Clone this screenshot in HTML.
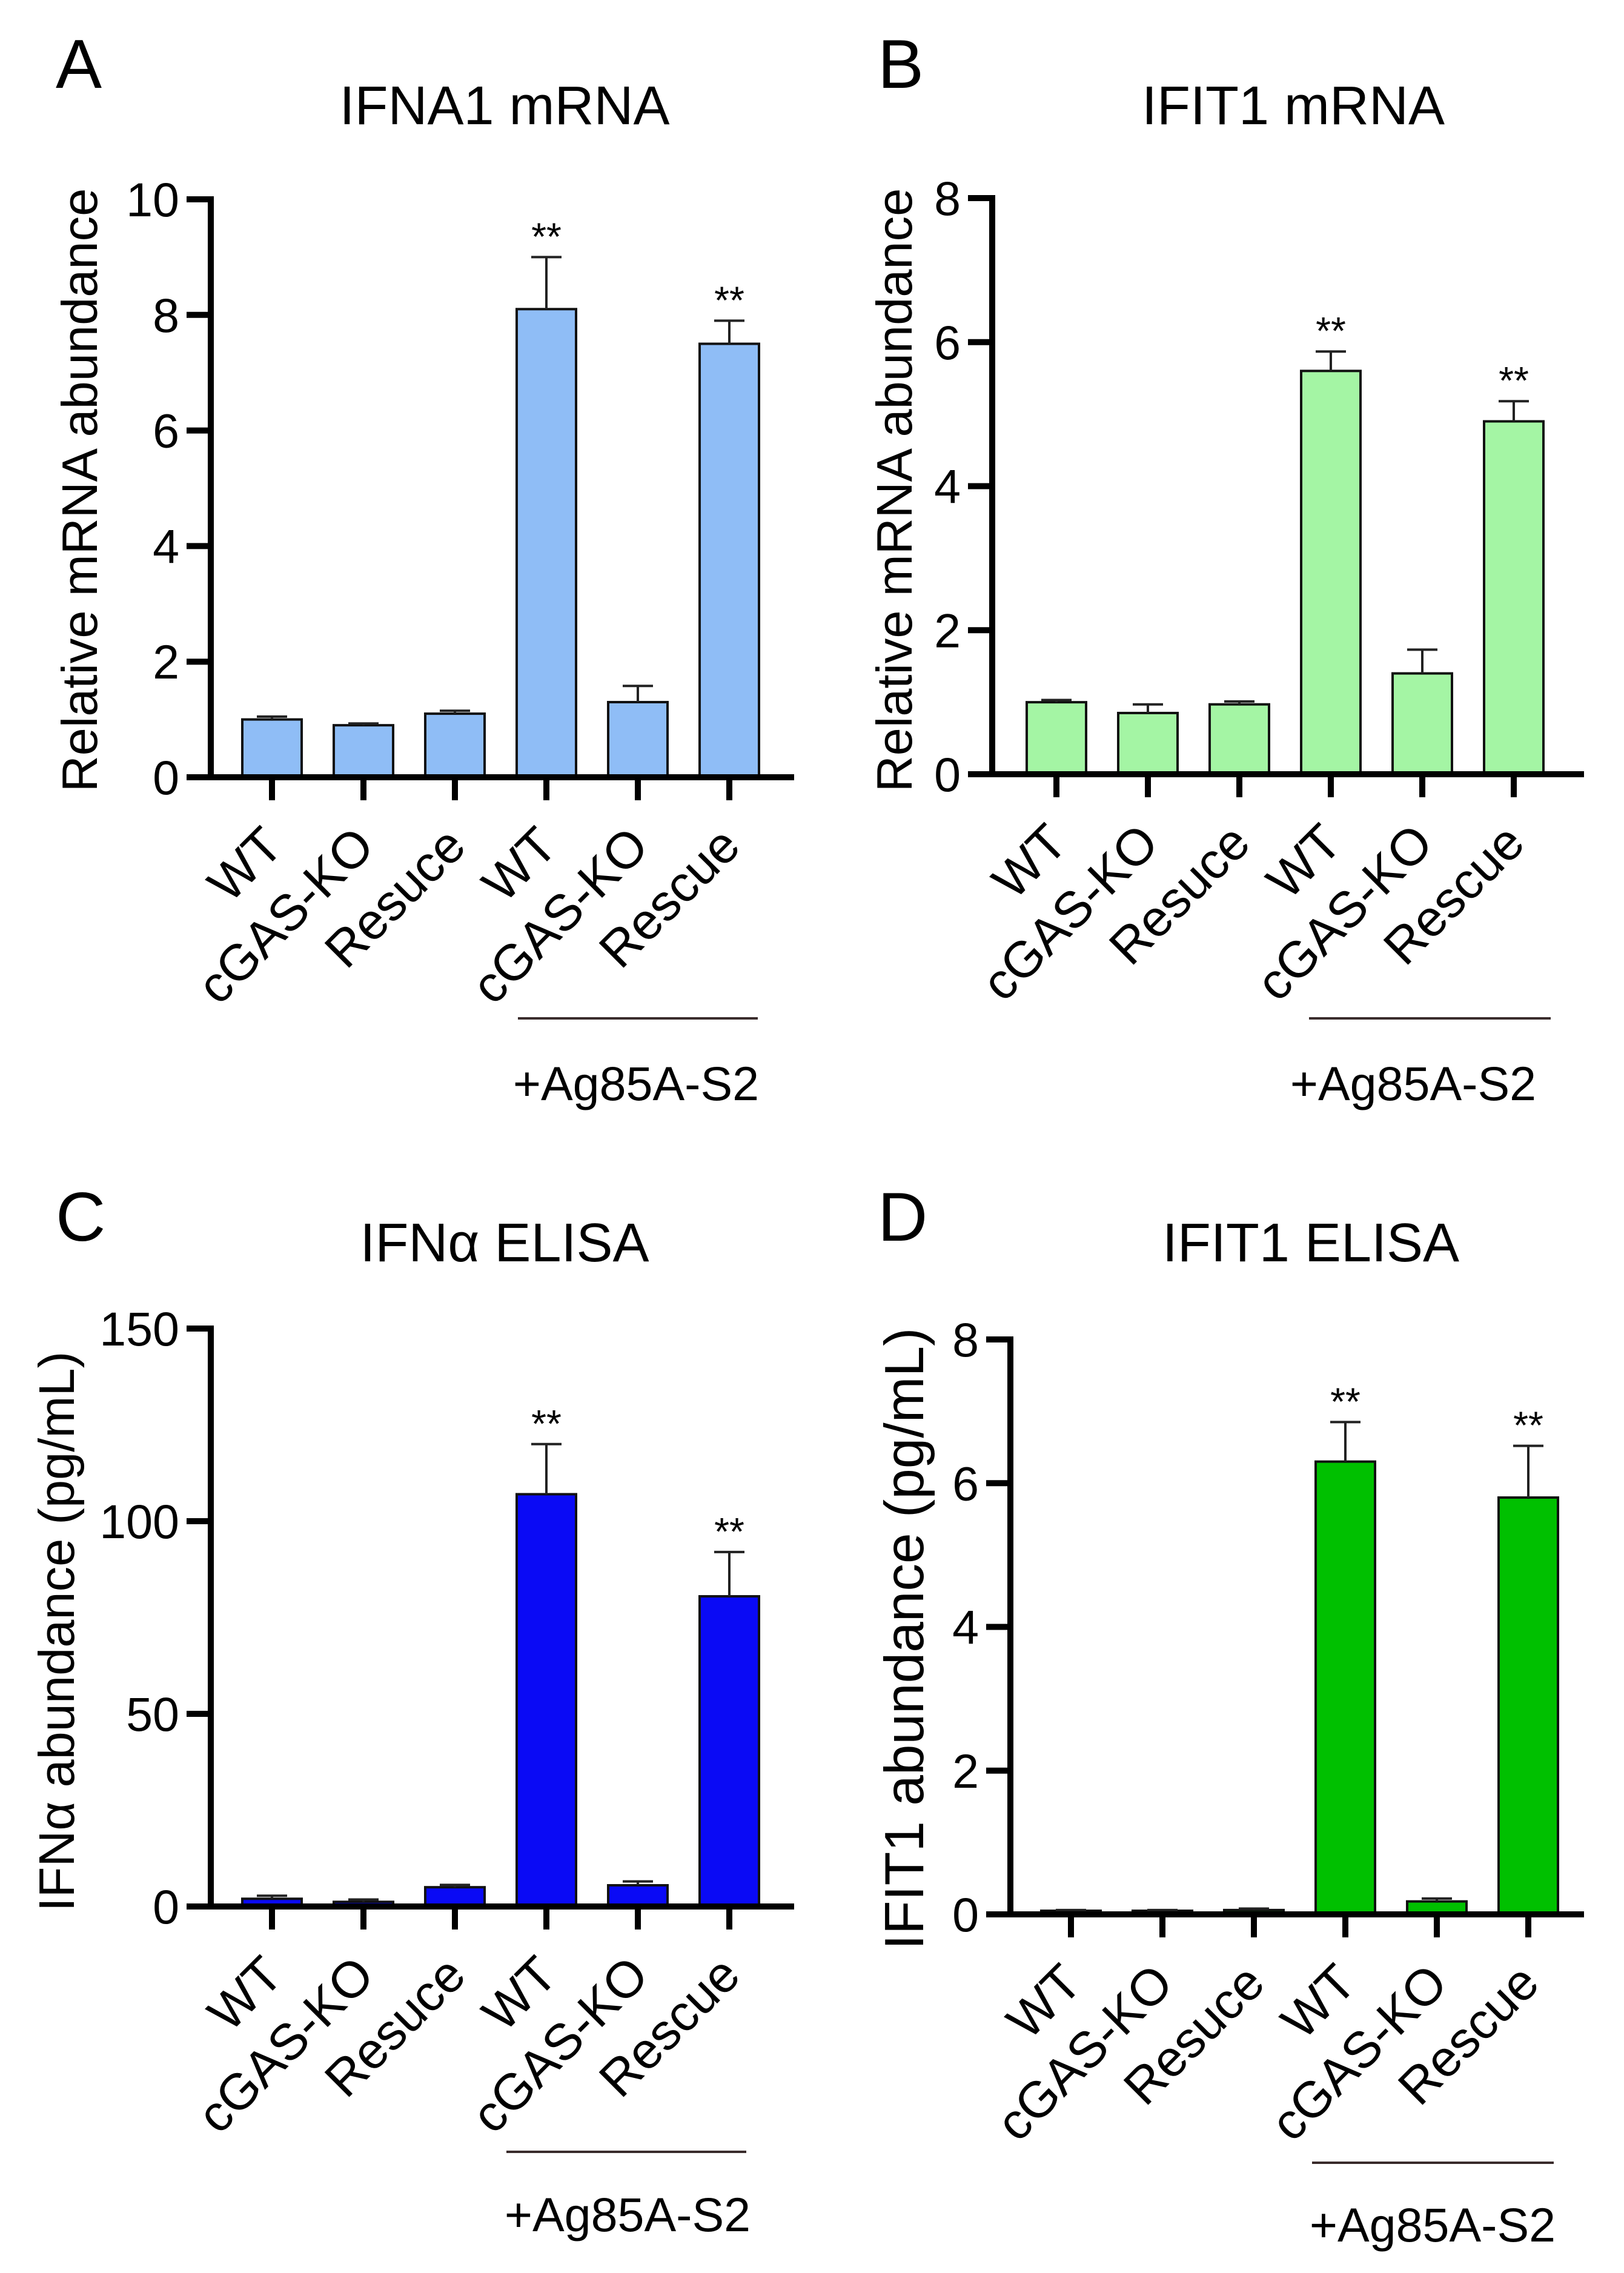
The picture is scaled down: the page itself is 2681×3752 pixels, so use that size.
<!DOCTYPE html>
<html><head><meta charset="utf-8">
<style>
html,body{margin:0;padding:0;background:#fff;}
svg{display:block;font-family:"Liberation Sans",Arial,sans-serif;}
</style></head>
<body>
<svg id="fig" width="2681" height="3752" viewBox="0 0 2681 3752" xmlns="http://www.w3.org/2000/svg"></svg>
<script>
const categories = ["WT","cGAS-KO","Resuce","WT","cGAS-KO","Rescue"];
const valuesA = [1.0, 0.9, 1.1, 8.1, 1.3, 7.5];
const errorsA = [0.05, 0.03, 0.05, 0.9, 0.28, 0.4];
const ticksA = [0,2,4,6,8,10];
const valuesB = [1.0, 0.85, 0.97, 5.6, 1.4, 4.9];
const errorsB = [0.03, 0.12, 0.04, 0.27, 0.33, 0.28];
const ticksB = [0,2,4,6,8];
const valuesC = [2.0, 1.2, 5.0, 107, 5.5, 80.5];
const errorsC = [0.8, 0.6, 0.6, 13, 1.0, 11.5];
const ticksC = [0,50,100,150];
const valuesD = [0.05, 0.05, 0.06, 6.3, 0.18, 5.8];
const errorsD = [0.01, 0.01, 0.02, 0.55, 0.04, 0.72];
const ticksD = [0,2,4,6,8];
const starsFlags = [false,false,false,true,false,true];

const NS="http://www.w3.org/2000/svg";
const svg=document.getElementById('fig');
function el(tag,attrs,parent,text){const e=document.createElementNS(NS,tag);for(const k in attrs)e.setAttribute(k,attrs[k]);if(text!==undefined)e.textContent=text;(parent||svg).appendChild(e);return e;}

const panels=[
 {id:'a',letter:'A',lx:92,ly:145,title:'IFNA1 mRNA',tx:833,ty:205,ax:348,top:329,bot:1283,xend:1311,max:10,vals:valuesA,errs:errorsA,ticks:ticksA,first:449,color:'#8fbdf6',ytitle:'Relative mRNA abundance',ytx:160,yty:809,yfs:83,lineY:1681,lx1:855,lx2:1251,agx:1050,agy:1816},
 {id:'b',letter:'B',lx:1449,ly:145,title:'IFIT1 mRNA',tx:2135,ty:205,ax:1638,top:327,bot:1278,xend:2615,max:8,vals:valuesB,errs:errorsB,ticks:ticksB,first:1744,color:'#a4f5a4',ytitle:'Relative mRNA abundance',ytx:1505,yty:809,yfs:83,lineY:1681,lx1:2161,lx2:2560,agx:2333,agy:1816},
 {id:'c',letter:'C',lx:92,ly:2048,title:'IFN\u03b1 ELISA',tx:833,ty:2082,ax:348,top:2193,bot:3147,xend:1311,max:150,vals:valuesC,errs:errorsC,ticks:ticksC,first:449,color:'#0a0af5',ytitle:'IFN\u03b1 abundance (pg/mL)',ytx:122,yty:2693,yfs:83,lineY:3552,lx1:836,lx2:1232,agx:1036,agy:3683},
 {id:'d',letter:'D',lx:1449,ly:2048,title:'IFIT1 ELISA',tx:2164,ty:2082,ax:1668,top:2211,bot:3160,xend:2615,max:8,vals:valuesD,errs:errorsD,ticks:ticksD,first:1768,color:'#00c000',ytitle:'IFIT1 abundance (pg/mL)',ytx:1524,yty:2705,yfs:91,lineY:3570,lx1:2166,lx2:2565,agx:2365,agy:3700}
];
const step=151, bw=98;

panels.forEach(p=>{
  const g=el('g',{});
  
  
  const y=v=>p.bot-(v/p.max)*(p.bot-p.top);
  const x=i=>p.first+i*step;
  const L=el('text',{x:p.lx,y:p.ly,'font-size':114},g,p.letter);
  
  
  const T=el('text',{x:p.tx,y:p.ty,'font-size':90,'text-anchor':'middle'},g,p.title);
  
  
  const Y=el('text',{x:0,y:0,'font-size':p.yfs,'text-anchor':'middle',transform:`translate(${p.ytx},${p.yty}) rotate(-90)`},g,p.ytitle);
  
  
  p.vals.forEach((v,i)=>{
    const cx=x(i), yt=y(v);
    const r=el('rect',{x:cx-bw/2,y:yt,width:bw,height:Math.max(p.bot-yt,0.5),fill:p.color,stroke:'#111','stroke-width':4},g);
    
    
    const ye=y(v+p.errs[i]);
    const e1=el('path',{d:`M${cx},${yt} V${ye} M${cx-25},${ye} H${cx+25}`,stroke:'#222','stroke-width':4,fill:'none'},g);
    
    
    if(starsFlags[i]){
      const s=el('text',{x:cx,y:ye-12,'font-size':64,'text-anchor':'middle'},g,'**');
      
      
    }
  });
  const ya=el('path',{d:`M${p.ax},${p.top-5} V${p.bot+5}`,stroke:'#000','stroke-width':10},g);
  
  
  const xa=el('path',{d:`M${p.ax-40},${p.bot} H${p.xend}`,stroke:'#000','stroke-width':10},g);
  
  
  p.ticks.forEach(t=>{
    const ty=y(t);
    const tk=el('path',{d:`M${p.ax-40},${ty} H${p.ax}`,stroke:'#000','stroke-width':10},g);
    
    
    const tl=el('text',{x:p.ax-52,y:ty+28,'font-size':79,'text-anchor':'end'},g,String(t));
    
    
  });
  categories.forEach((c,i)=>{
    const cx=x(i);
    const tk=el('path',{d:`M${cx},${p.bot} V${p.bot+38}`,stroke:'#000','stroke-width':10},g);
    
    
    const lb=el('text',{x:0,y:0,'font-size':84,'text-anchor':'end',transform:`translate(${cx+22},${p.bot+118}) rotate(-45)`},g,c);
    
    
  });
  const ln=el('path',{d:`M${p.lx1},${p.lineY} H${p.lx2}`,stroke:'#3a2c2c','stroke-width':4},g);
  
  
  const ag=el('text',{x:p.agx,y:p.agy,'font-size':79,'text-anchor':'middle'},g,'+Ag85A-S2');
  
  
});
</script>
</body></html>
